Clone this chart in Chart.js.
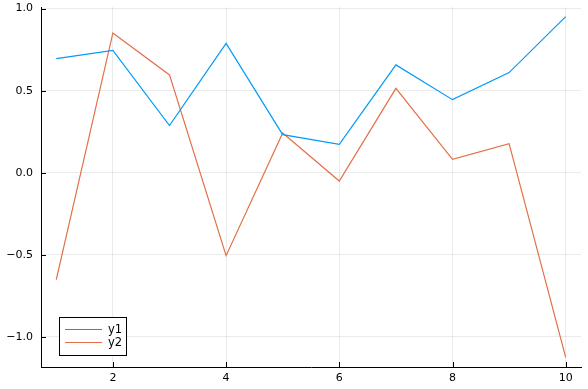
<!DOCTYPE html>
<html>
<head>
<meta charset="utf-8">
<script src="https://cdn.jsdelivr.net/npm/chart.js@4"></script>
<style>
  html, body { margin: 0; padding: 0; background: #fff; }
  #wrap { width: 588px; height: 389px; }
</style>
</head>
<body>
<div id="wrap"><canvas id="plot" width="588" height="389"></canvas></div>
<script>
// data
const xs = [1, 2, 3, 4, 5, 6, 7, 8, 9, 10];
const y1 = [0.695, 0.746, 0.287, 0.788, 0.232, 0.173, 0.657, 0.445, 0.610, 0.951];
const y2 = [-0.652, 0.852, 0.596, -0.506, 0.242, -0.051, 0.514, 0.081, 0.177, -1.126];
const seriesNames = ['y1', 'y2'];
const xTicks = [2, 4, 6, 8, 10];
const yTicks = [-1.0, -0.5, 0.0, 0.5, 1.0];

const colors = ['#009AFA', '#E26F46'];
const fontFamily = 'DejaVu Sans';

function toPoints(ys) {
  return xs.map((x, i) => ({ x: x, y: ys[i] }));
}

// ticks drawn inward from the axis, like GR does
const innerTicks = {
  id: 'innerTicks',
  afterDraw(chart) {
    const ctx = chart.ctx;
    const area = chart.chartArea;
    const sx = chart.scales.x, sy = chart.scales.y;
    ctx.save();
    ctx.strokeStyle = '#000';
    ctx.lineWidth = 1;
    ctx.beginPath();
    xTicks.forEach(t => {
      let px = Math.round(sx.getPixelForValue(t)) + 0.5;
      ctx.moveTo(px, area.bottom);
      ctx.lineTo(px, area.bottom - 5);
    });
    yTicks.forEach(t => {
      let py = Math.round(sy.getPixelForValue(t)) + 0.5;
      ctx.moveTo(area.left, py);
      ctx.lineTo(area.left + 5, py);
    });
    ctx.stroke();
    ctx.restore();
  }
};

// legend box in the lower left corner of the plot
const boxLegend = {
  id: 'boxLegend',
  afterDraw(chart) {
    const ctx = chart.ctx;
    const area = chart.chartArea;
    const x0 = area.left + 18, y0 = area.bottom - 50;
    const w = 67, h = 38;
    ctx.save();
    ctx.fillStyle = '#fff';
    ctx.fillRect(x0, y0, w, h);
    ctx.strokeStyle = '#000';
    ctx.lineWidth = 1;
    ctx.strokeRect(x0 + 0.5, y0 + 0.5, w, h);
    ctx.font = '11.5px ' + fontFamily;
    ctx.textBaseline = 'middle';
    chart.data.datasets.forEach((ds, i) => {
      let ly = y0 + 12.5 + i * 13;
      ctx.strokeStyle = ds.borderColor;
      ctx.lineWidth = 1.2;
      ctx.beginPath();
      ctx.moveTo(x0 + 6, ly);
      ctx.lineTo(x0 + 43, ly);
      ctx.stroke();
      ctx.fillStyle = '#000';
      ctx.fillText(ds.label, x0 + 49, ly + 1);
    });
    ctx.restore();
  }
};

new Chart(document.getElementById('plot').getContext('2d'), {
  type: 'line',
  data: {
    datasets: [
      { label: seriesNames[0], data: toPoints(y1), borderColor: colors[0] },
      { label: seriesNames[1], data: toPoints(y2), borderColor: colors[1] }
    ]
  },
  options: {
    responsive: false,
    animation: false,
    layout: { padding: { left: 0, right: 7, top: 7, bottom: 0 } },
    elements: {
      line: { borderWidth: 1.2, tension: 0, fill: false },
      point: { radius: 0 }
    },
    plugins: {
      legend: { display: false },
      tooltip: { enabled: false }
    },
    scales: {
      x: {
        type: 'linear',
        min: 0.73,
        max: 10.27,
        afterBuildTicks: s => { s.ticks = xTicks.map(v => ({ value: v })); },
        afterFit: s => { s.height = 22; s.paddingLeft = 0; s.paddingRight = 0; },
        grid: { color: 'rgba(0,0,0,0.08)', drawTicks: false },
        border: { display: true, color: '#000', width: 1 },
        ticks: {
          padding: 5,
          color: '#000',
          font: { family: fontFamily, size: 11 },
          maxRotation: 0,
          callback: v => String(v)
        }
      },
      y: {
        min: -1.185,
        max: 1.01,
        afterBuildTicks: s => { s.ticks = yTicks.map(v => ({ value: v })); },
        afterFit: s => { s.width = 41; s.paddingTop = 0; s.paddingBottom = 0; },
        grid: { color: 'rgba(0,0,0,0.08)', drawTicks: false },
        border: { display: true, color: '#000', width: 1 },
        ticks: {
          padding: 8,
          color: '#000',
          font: { family: fontFamily, size: 11 },
          callback: v => (v < 0 ? '\u2212' : '') + Math.abs(v).toFixed(1)
        }
      }
    }
  },
  plugins: [innerTicks, boxLegend]
});
</script>
</body>
</html>
